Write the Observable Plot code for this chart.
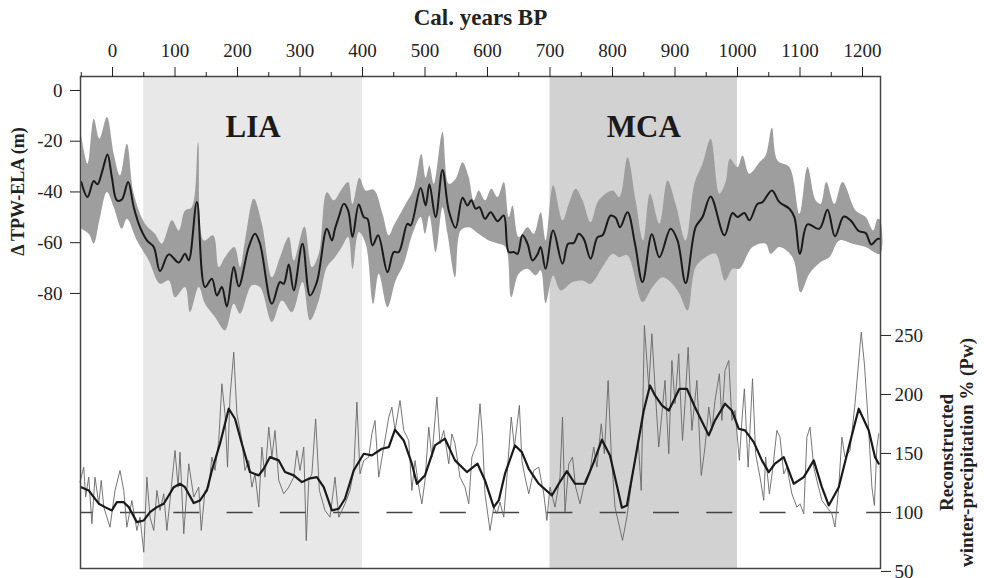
<!DOCTYPE html>
<html><head><meta charset="utf-8">
<script src="https://cdn.jsdelivr.net/npm/d3@7"></script>
<script src="https://cdn.jsdelivr.net/npm/@observablehq/plot@0.6"></script>
<style>body{margin:0;background:#fff}</style>
</head><body><div id="chart"></div>
<script>
// ---- tick labels / categories ----
const xMajorTicks = [0,100,200,300,400,500,600,700,800,900,1000,1100,1200];
const xMinorTicks = [-50,50,150,250,350,450,550,650,750,850,950,1050,1150];
const elaTicks = [0,-20,-40,-60,-80];
const precipTicks = [50,100,150,200,250];
const periodNames = ["LIA","MCA"];
const periodStart = [50,700];
const periodEnd = [400,1000];
const periodFill = ["#e8e8e8","#d2d2d2"];
const baselinePrecip = [100];

// ---- Δ TPW-ELA mean (m) ----
const elaYears = [-50,-40,-30,-24,-16,-8,-1,7,15,25,34,44,55,66,76,90,106,116,122,135,148,159,167,175,183,194,202,218,228,236,255,268,274,282,290,304,316,327,343,351,356,362,370,377,384,394,402,408,416,425,440,450,458,472,477,493,501,507,517,528,538,549,560,568,574,581,587,596,605,616,626,634,642,648,656,664,672,680,685,693,705,720,729,738,746,754,765,776,784,797,805,812,824,836,848,863,875,893,904,917,933,944,957,979,992,1000,1011,1019,1032,1040,1055,1067,1083,1091,1100,1112,1131,1144,1156,1170,1181,1194,1205,1214,1224,1228];
const elaMean = [-36.1,-42,-35.7,-37,-31.5,-25.2,-34.2,-43.3,-43,-36.1,-46,-53.9,-59.1,-61.7,-71.2,-64.6,-67.8,-64.4,-67,-44,-77.5,-74.2,-80.8,-77.5,-85.1,-69.6,-77.2,-61.7,-56.5,-60.4,-84.1,-75.5,-76.2,-68.6,-78.8,-60.4,-80.8,-75.5,-54.5,-59.1,-54.5,-49.9,-44.7,-47.3,-57.8,-44.9,-49.9,-50.6,-61.1,-57.1,-71.6,-63.7,-63.7,-52.5,-53.2,-38.4,-45.3,-37,-49.9,-31.3,-47.3,-54.1,-42.3,-45.3,-43.3,-46.6,-46,-50.6,-48,-51.5,-49.3,-63.7,-63.7,-64.4,-57.1,-60.4,-67,-64.6,-61.7,-70.3,-55.2,-68.3,-60.4,-60.1,-56.5,-58.5,-66.3,-57.8,-57.1,-49.3,-50.2,-53.9,-48,-60.4,-75.5,-56.7,-65.7,-54.5,-59.1,-75.9,-53.9,-49.9,-41.8,-57.1,-48.3,-49.9,-48.3,-51.2,-44.7,-44,-39.4,-44,-46.6,-49.9,-64.4,-52.8,-54.5,-47,-57.5,-49.7,-51.2,-55.4,-56.2,-60.7,-58.5,-58.5];

// ---- uncertainty band: upper edge ----
const bandUpYears = [-50,-40,-30,-21,-9,2,12,23,34,52,68,79,95,106,116,127,137,146,161,170,180,195,204,212,226,239,255,268,282,290,307,319,330,343,354,367,377,384,395,405,418,432,442,450,469,482,494,501,507,514,528,538,549,560,570,578,586,596,606,616,626,634,640,650,664,674,685,693,705,720,730,741,752,765,778,800,811,824,837,849,860,875,888,901,917,931,944,957,971,981,988,1000,1008,1019,1035,1045,1055,1064,1083,1099,1112,1125,1133,1142,1155,1168,1189,1205,1217,1224,1228];
const bandUp = [-17.7,-28.9,-11.2,-19,-10.5,-25,-33.5,-21,-40.7,-52.5,-56.5,-60.4,-51.2,-55.2,-47.3,-46,-20.4,-59.1,-57.1,-69.6,-65.7,-61.7,-69.6,-59.1,-42.7,-52.5,-73.6,-65.7,-57.8,-67,-53.6,-69.6,-64.4,-40.1,-43.3,-38.7,-36.1,-44.7,-34.4,-39.4,-39.1,-48.6,-57.1,-53.2,-44.7,-38.7,-25,-34.4,-29.6,-36.8,-16.4,-36.8,-34.8,-28.3,-34.2,-43.3,-39.4,-43.3,-38.7,-42,-36.1,-49.9,-45.3,-57.8,-53.9,-56.5,-48,-59.1,-37.4,-51.2,-44.7,-38.7,-43.3,-51.9,-43.3,-39.4,-42,-26.3,-43.3,-59.1,-40.7,-52.5,-35.5,-44.7,-59.1,-36.8,-28.9,-19,-40.7,-36.1,-26.9,-30.2,-25.6,-32.8,-28.3,-25.6,-14.7,-27.6,-30.2,-48.6,-30.2,-43.3,-44.7,-36.1,-44.7,-36.1,-47.3,-49.9,-55.2,-50.6,-51];

// ---- uncertainty band: lower edge ----
const bandLowYears = [-50,-38,-30,-21,-9,2,15,23,39,58,76,90,100,116,124,138,148,164,180,194,204,223,236,255,271,287,304,316,330,343,356,367,377,384,394,405,417,426,440,453,466,480,493,500,507,517,528,536,548,557,570,586,602,618,629,638,650,664,677,685,693,705,717,736,752,765,784,800,811,824,848,864,880,893,907,920,933,949,965,980,992,1003,1024,1045,1053,1067,1088,1101,1115,1133,1147,1163,1184,1205,1228];
const bandLow = [-54.5,-56.5,-60.4,-51.2,-40,-46,-54.5,-50.6,-59.1,-67,-76.2,-74.9,-81.5,-77.5,-87.4,-77.5,-84.1,-89.3,-94.6,-84.1,-88,-76.8,-77.5,-91.3,-82.8,-87.4,-75.5,-90.6,-82.8,-69.6,-65.7,-61.7,-57.8,-70.3,-55.8,-60.4,-84.1,-72.2,-85.4,-74.9,-68.3,-56.5,-49.9,-56.5,-49.3,-63.7,-46,-56.5,-73.6,-55.2,-53.9,-56.5,-59.1,-60.4,-61.7,-81.5,-72.2,-70.3,-72.9,-70.9,-83.8,-72.9,-78.8,-75.5,-74.9,-76.2,-69.6,-64.4,-65.7,-65,-83.4,-77.5,-73.6,-75.5,-80.1,-86.7,-69.6,-65.7,-64.4,-74.9,-70.3,-70.3,-61.7,-60.4,-64.4,-61.7,-65.7,-79.5,-72.2,-67.6,-65.7,-59.1,-60.4,-61.7,-64.4];

// ---- reconstructed winter precipitation, smoothed (%) ----
const pwSmoothYears = [-50,-38,-30,-22,-12,-1,7,18,26,39,50,60,71,82,90,98,108,116,130,140,151,159,172,186,196,207,220,234,242,252,266,276,290,303,314,327,338,351,362,372,386,402,415,431,442,452,466,479,487,500,516,532,548,567,584,596,610,618,628,644,655,666,682,703,714,727,740,756,770,783,796,810,815,823,836,850,860,868,879,890,898,907,919,932,954,964,980,991,1002,1012,1026,1039,1050,1060,1074,1090,1106,1122,1135,1146,1162,1178,1194,1210,1220,1226];
const pwSmooth = [121.4,118.6,113,107.4,104.5,101.7,108.7,108.7,104.5,91.8,93.2,100.3,104.5,107.4,114.4,121.4,124.3,121.4,107.9,110.2,118.6,135.6,158.2,187.9,179.4,158.2,134.2,131.4,137,146.9,144.1,134.2,131.4,125.7,128.6,129.9,121.4,101.7,103.1,111.6,135.6,149.7,148.3,154,155.3,170.1,161,141.3,124.3,131.4,156.8,162.5,144.1,134.2,141.3,127.1,104.5,110.2,132.8,156.8,151.1,137,124.3,114.4,124.3,135,124.3,124.3,142.6,161.6,148.3,115.8,104,105.9,144.1,186.4,207.6,199.2,190.7,186.4,194.9,204.8,204.8,189.2,165.3,178,192.1,186.4,170.9,169.5,159.6,144.1,134.2,141.3,146.9,124.3,129.9,144.1,121.4,105.9,121.4,155.3,187.9,169.5,146.9,141.3];

// ---- reconstructed winter precipitation, raw (%) ----
const pwRawYears = [-52,-46,-43,-38,-33,-28,-22,-18,-14,-4,4,12,18,23,31,39,44,50,55,60,66,71,76,82,87,92,100,105,108,114,122,130,138,142,148,154,159,164,170,175,180,184,188,194,199,207,212,218,223,228,234,239,244,250,255,260,266,274,282,290,295,300,306,310,314,319,325,331,340,348,356,362,372,380,386,391,396,402,410,415,420,426,434,442,447,452,460,466,474,479,484,490,495,500,506,511,519,524,530,538,543,548,556,564,570,575,583,588,592,596,604,610,615,620,626,631,638,643,651,655,660,666,674,682,690,695,700,708,716,720,724,730,736,741,748,756,764,770,775,782,787,793,798,804,816,823,831,841,846,851,858,863,868,874,879,884,890,895,900,906,908,912,916,921,927,935,942,948,954,959,964,971,975,980,986,991,996,1003,1007,1011,1017,1024,1029,1036,1042,1045,1051,1056,1063,1068,1074,1079,1087,1095,1100,1106,1111,1116,1122,1127,1135,1143,1151,1156,1162,1167,1172,1180,1188,1198,1203,1209,1215,1219,1223,1226];
const pwRaw = [125.7,138.4,113,129.9,90.4,129.9,107.3,127.1,104.5,87.5,118.6,135.6,118.6,87.5,110.1,84.7,96,66.3,129.9,96,84.7,118.6,101.7,115.8,84.7,110.1,152.5,121.4,151.1,81.9,141.2,113,121.4,84.7,118.6,121.4,146.9,135.6,161,209,183.6,138.4,197.7,235.8,183.6,161,135.6,144,121.4,132.7,104.5,155.3,129.9,172.3,146.9,169.5,127.1,115.8,121.4,129.9,152.5,135.6,155.3,76.2,127.1,132.7,179.3,118.6,101.7,96,129.9,96,107.3,118.6,135.6,193.5,132.7,144,146.9,166.6,177.9,129.9,155.3,180.7,189.2,169.5,194.9,169.5,161,118.6,144,121.4,107.3,127.1,172.3,146.9,197.7,158.2,169.5,141.2,166.6,158.2,129.9,121.4,107.3,146.9,158.2,192.1,163.8,115.8,84.7,104.5,98.9,108.7,96,129.9,180.8,155.4,190.7,144.1,129.9,115.8,135.6,138.4,115.8,93.2,121.5,104.5,129.9,180.8,100.3,141.2,146.9,121.5,107.3,127.1,135.6,155.4,138.4,175.1,149.7,211.9,149.7,104.5,76.3,96,127.1,161,118.6,258.5,206.2,251.4,206.2,155.4,183.6,211.9,149.7,228.8,192.1,234.5,206.2,161,192.1,240.1,169.5,211.9,131.3,155.4,189.3,169.5,194.9,217.5,178,220.3,228.8,178,186.4,144.1,178,204.8,138.4,213.3,149.7,129.9,110.2,146.9,115.8,135.6,169.5,163.8,132.7,138.4,115.8,104.5,107.3,98.9,163.8,172.3,138.4,127.1,110.2,104.5,98.9,87.6,121.5,163.8,146.9,152.5,192.1,252.8,226,178,121.5,105.9,155.4,166.7];

// ---- build tables ----
const periods = periodNames.map((name, i) => ({name, start: periodStart[i], end: periodEnd[i], fill: periodFill[i]}));
const ela = elaYears.map((x, i) => ({x, y: elaMean[i]}));
const band = [
  ...bandUpYears.map((x, i) => ({x, y: bandUp[i]})),
  ...bandLowYears.map((x, i) => ({x, y: bandLow[i]})).reverse()
];
// precipitation axis shares the frame with the ELA axis (right-hand scale)
const toL = p => (1.18 * (p - 50) - 481) / 2.5375;
const fromL = l => (l * 2.5375 + 481) / 1.18 + 50;
const smooth = pwSmoothYears.map((x, i) => ({x, y: toL(pwSmooth[i])}));
const raw = pwRawYears.map((x, i) => ({x, y: toL(pwRaw[i])}));

const serif = "'Liberation Serif', 'DejaVu Serif', serif";

const chart = Plot.plot({
  width: 984,
  height: 578,
  marginTop: 76,
  marginBottom: 10,
  marginLeft: 80,
  marginRight: 104,
  style: {fontFamily: serif, fontSize: "19px", background: "white", color: "#222"},
  x: {domain: [-51.2, 1228.8]},
  y: {domain: [-188.4, 5.5]},
  marks: [
    Plot.rect(periods, {x1: "start", x2: "end", fill: "fill"}),
    Plot.line(band, {x: "x", y: "y", fill: "#9e9e9e", stroke: "none", curve: "catmull-rom"}),
    Plot.line(ela, {x: "x", y: "y", stroke: "#1a1a1a", strokeWidth: 2, curve: "catmull-rom"}),
    Plot.ruleY(baselinePrecip.map(toL), {stroke: "#444", strokeWidth: 1.5, strokeDasharray: "26,27.3", strokeDashoffset: 13.3}),
    Plot.line(raw, {x: "x", y: "y", stroke: "#666", strokeWidth: 0.9}),
    Plot.line(smooth, {x: "x", y: "y", stroke: "#1a1a1a", strokeWidth: 2.2}),
    Plot.frame({stroke: "#444", strokeWidth: 1.5}),
    Plot.axisX({anchor: "top", ticks: xMajorTicks, tickSize: 10, tickPadding: 10, tickFormat: d => String(d), label: null, fontSize: 19}),
    Plot.axisX({anchor: "top", ticks: xMinorTicks, tickSize: 5, tickFormat: () => "", label: null}),
    Plot.axisY({anchor: "left", ticks: elaTicks, tickSize: 10, tickPadding: 8, tickFormat: d => String(d), label: null, fontSize: 19}),
    Plot.axisY({anchor: "right", ticks: precipTicks.map(toL), tickSize: 10, tickPadding: 4, tickFormat: d => String(Math.round(fromL(d))), label: null, fontSize: 19}),
    Plot.text(["Cal. years BP"], {text: d => d, frameAnchor: "top", dy: -68, fontWeight: "bold", fontSize: 23}),
    Plot.text(periods, {x: d => (d.start + d.end) / 2, text: "name", frameAnchor: "top", dy: 38, fontWeight: "bold", fontSize: 31, fill: "#1a1a1a"}),
    Plot.text(["Δ TPW-ELA (m)"], {text: d => d, frameAnchor: "left", textAnchor: "middle", rotate: -90, dx: -62, dy: -131, fontWeight: "bold", fontSize: 18}),
    Plot.text(["Reconstructed"], {text: d => d, frameAnchor: "right", textAnchor: "middle", rotate: -90, dx: 66, dy: 130, fontWeight: "bold", fontSize: 19}),
    Plot.text(["winter-precipitation % (Pw)"], {text: d => d, frameAnchor: "right", textAnchor: "middle", rotate: -90, dx: 86, dy: 130, fontWeight: "bold", fontSize: 19})
  ]
});
document.getElementById("chart").appendChild(chart);
</script>
</body></html>
